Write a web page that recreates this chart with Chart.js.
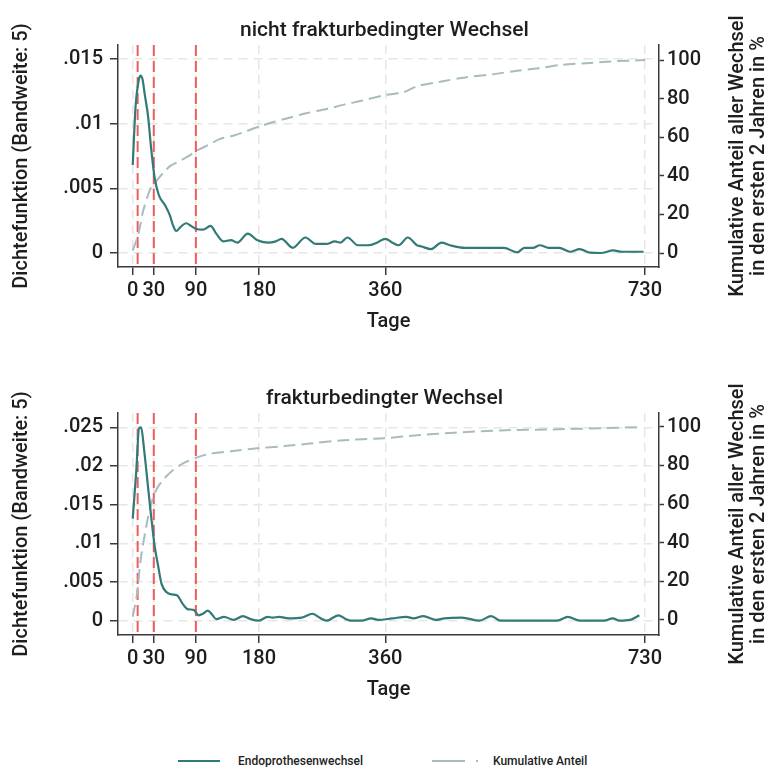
<!DOCTYPE html>
<html><head><meta charset="utf-8">
<script src="https://cdn.jsdelivr.net/npm/chart.js@4/dist/chart.umd.min.js"></script>
<style>
html,body{margin:0;padding:0;background:#fff;}
body{width:769px;height:767px;overflow:hidden;position:relative;font-family:Roboto,sans-serif;}
.c{position:absolute;left:0;width:769px;height:368px;}
.lg{position:absolute;font:500 12px Roboto,sans-serif;color:#222;line-height:14px;white-space:nowrap;}
.sw{position:absolute;height:0;}
</style></head><body>
<div class="c" style="top:0"><canvas id="c1"></canvas></div>
<div class="c" style="top:368px"><canvas id="c2"></canvas></div>
<div class="sw" style="left:178px;top:760px;width:42px;border-top:2.5px solid #317A78"></div>
<div class="lg" style="left:238px;top:754px">Endoprothesenwechsel</div>
<div class="sw" style="left:432px;top:760px;width:33px;border-top:2.5px solid #A9BBBF"></div>
<div class="sw" style="left:476px;top:760px;width:2px;border-top:2px solid #A9BBBF"></div>
<div class="lg" style="left:493px;top:754px">Kumulative Anteil</div>
<script>
// ---- shared ----
const xTicks = [0, 30, 90, 180, 360, 730];
const refDays = [7, 30, 90];
const titles = ["nicht frakturbedingter Wechsel", "frakturbedingter Wechsel"];
const legendLabels = ["Endoprothesenwechsel", "Kumulative Anteil"];
const rightTicks = [0, 20, 40, 60, 80, 100];

// ---- top panel: nicht frakturbedingt ----
const densDaysA = [0, 4, 8, 11, 14, 17, 22, 26, 31, 37, 46, 53, 57, 62, 68, 76, 83, 89, 100, 111, 119, 129, 140, 149, 164, 177, 192, 204, 212, 228, 246, 261, 276, 288, 296, 306, 321, 336, 348, 360, 370, 379, 392, 405, 412, 425, 440, 452, 474, 499, 529, 548, 558, 571, 580, 593, 608, 623, 637, 652, 667, 685, 697, 712, 728];
const densValsA = [0.0068, 0.0113, 0.0132, 0.0137, 0.0134, 0.0123, 0.0105, 0.0082, 0.0059, 0.0045, 0.0037, 0.0029, 0.0022, 0.0017, 0.0020, 0.0023, 0.0021, 0.0019, 0.0018, 0.0021, 0.0015, 0.0009, 0.0010, 0.0008, 0.0015, 0.0010, 0.0008, 0.0009, 0.0011, 0.0004, 0.0012, 0.0007, 0.0007, 0.0009, 0.0008, 0.0012, 0.0006, 0.0006, 0.0008, 0.0011, 0.0008, 0.0006, 0.0012, 0.0006, 0.0005, 0.0003, 0.0008, 0.0006, 0.0004, 0.0004, 0.0004, 0.00005, 0.0004, 0.0004, 0.0006, 0.0004, 0.0004, 0.0001, 0.0003, 0.00003, 0.0, 0.0002, 0.0001, 0.0001, 0.0001];
const cumDaysA = [0, 8, 15, 26, 34, 44, 54, 66, 78, 91, 108, 123, 143, 157, 180, 202, 222, 247, 276, 301, 326, 360, 385, 405, 440, 474, 514, 548, 578, 613, 647, 682, 730];
const cumValsA = [1.2, 9.8, 22, 34, 37.5, 41.8, 45.3, 47.5, 49.9, 53, 56, 58.9, 60.8, 62.5, 65.5, 68, 70, 72.4, 74.6, 76.9, 78.9, 81.9, 83.2, 86.4, 88.9, 91, 92.7, 94.5, 95.7, 97.6, 98.4, 99.3, 100];
const leftTicksA = [0, 0.005, 0.01, 0.015];
const leftLabelsA = ["0", ".005", ".01", ".015"];

// ---- bottom panel: frakturbedingt ----
const densDaysB = [0, 5, 9, 12, 16, 21, 26, 31, 36, 41, 48, 56, 63, 71, 78, 87, 94, 100, 107, 113, 119, 130, 144, 157, 168, 180, 192, 199, 209, 222, 241, 256, 266, 276, 293, 304, 311, 326, 340, 350, 370, 390, 400, 414, 432, 444, 469, 494, 511, 524, 563, 605, 620, 637, 672, 684, 694, 709, 722];
const densValsB = [0.0132, 0.0193, 0.0249, 0.0250, 0.0223, 0.0180, 0.0137, 0.0098, 0.0072, 0.0048, 0.0037, 0.0034, 0.0033, 0.0022, 0.0015, 0.0014, 0.0007, 0.0009, 0.0013, 0.0008, 0.0002, 0.0005, 0.0001, 0.0006, 0.0002, 0.0, 0.0005, 0.0004, 0.0005, 0.0003, 0.0004, 0.0009, 0.0004, 0.0, 0.0007, 0.0002, 0.0, 0.0, 0.0003, 0.0001, 0.0003, 0.0005, 0.0003, 0.0006, 0.0001, 0.0003, 0.0004, 0.0, 0.0006, 0.0, 0.0, 0.0, 0.0005, 0.0, 0.0, 0.0003, 0.0, 0.0001, 0.0007];
const cumDaysB = [0, 6, 11, 19, 26, 34, 44, 56, 71, 91, 110, 143, 177, 217, 256, 296, 360, 410, 459, 524, 598, 672, 722];
const cumValsB = [1.7, 13.3, 30.5, 47.8, 59.8, 67.6, 72.8, 77.1, 80.9, 84, 86, 87.4, 88.8, 90, 91.4, 92.9, 94.1, 95.7, 96.9, 98.1, 98.6, 99.3, 99.8];
const leftTicksB = [0, 0.005, 0.01, 0.015, 0.02, 0.025];
const leftLabelsB = ["0", ".005", ".01", ".015", ".02", ".025"];

const FONT = "Roboto";
const TXT = "#1e1e1e";
const GRID = "#e6e6e6";
const AXIS = "#3a3a3a";
const W = "500";

const refLinesPlugin = {
  id: "refLines",
  beforeDatasetsDraw(chart) {
    const {ctx, chartArea} = chart;
    const xs = chart.scales.x;
    ctx.save();
    ctx.strokeStyle = "#F35A5A";
    ctx.lineWidth = 2;
    ctx.setLineDash([11, 5]);
    refDays.forEach(d => {
      const px = xs.getPixelForValue(d);
      ctx.beginPath();
      ctx.moveTo(px, chartArea.top);
      ctx.lineTo(px, chartArea.bottom);
      ctx.stroke();
    });
    ctx.restore();
  }
};

const rightTitlePlugin = {
  id: "rightTitle",
  afterDraw(chart) {
    const {ctx, chartArea} = chart;
    const cy = (chartArea.top + chartArea.bottom) / 2;
    ctx.save();
    ctx.fillStyle = TXT;
    ctx.font = W + " 20px " + FONT;
    ctx.textAlign = "center";
    ctx.textBaseline = "middle";
    const lines = ["Kumulative Anteil aller Wechsel", "in den ersten 2 Jahren in %"];
    const xs = [738, 759];
    lines.forEach((t, i) => {
      ctx.save();
      ctx.translate(xs[i], cy);
      ctx.rotate(-Math.PI / 2);
      ctx.fillText(t, 0, 0);
      ctx.restore();
    });
    ctx.restore();
  }
};

function makeChart(id, title, dDays, dVals, cDays, cVals, lTicks, lLabels, lMin, lMax, rMin, rMax) {
  const dens = dDays.map((d, i) => ({x: d, y: dVals[i]}));
  const cum = cDays.map((d, i) => ({x: d, y: cVals[i]}));
  const f20 = {family: FONT, size: 20, weight: W};
  return new Chart(document.getElementById(id), {
    type: "line",
    data: {
      datasets: [
        {label: legendLabels[0], data: dens, yAxisID: "y", borderColor: "#317A78", borderWidth: 2.2, pointRadius: 0, cubicInterpolationMode: "monotone", fill: false, order: 1},
        {label: legendLabels[1], data: cum, yAxisID: "y1", borderColor: "#A9BBBF", borderWidth: 2, borderDash: [12, 6], pointRadius: 0, tension: 0.3, fill: false, order: 2}
      ]
    },
    options: {
      responsive: true,
      maintainAspectRatio: false,
      animation: false,
      layout: {padding: 0},
      plugins: {
        legend: {display: false},
        tooltip: {enabled: false},
        title: {display: true, text: title, color: TXT, font: {family: FONT, size: 21, weight: W}, padding: {top: 18, bottom: 1.8}}
      },
      scales: {
        x: {
          type: "linear", min: -21, max: 750,
          afterBuildTicks: s => { s.ticks = xTicks.map(v => ({value: v})); },
          afterFit: s => { s.height = 101; },
          ticks: {color: TXT, font: f20, padding: 4, maxRotation: 0, autoSkip: false, callback: v => String(v)},
          grid: {color: GRID, lineWidth: 1.5, tickLength: 8, tickColor: AXIS, tickWidth: 1.5, tickBorderDash: []},
          border: {display: true, color: AXIS, width: 1.5, dash: [9, 6]},
          title: {display: true, text: "Tage", color: TXT, font: f20, padding: {top: 0, bottom: 34}}
        },
        y: {
          type: "linear", position: "left", min: lMin, max: lMax,
          afterBuildTicks: s => { s.ticks = lTicks.map(v => ({value: v})); },
          afterFit: s => { s.width = 118; },
          ticks: {color: TXT, font: f20, padding: 7, callback: (v, i) => lLabels[i]},
          grid: {color: GRID, lineWidth: 1.5, tickLength: 8, tickColor: AXIS, tickWidth: 1.5, tickBorderDash: []},
          border: {display: true, color: AXIS, width: 1.5, dash: [9, 6]},
          title: {display: true, text: "Dichtefunktion (Bandweite: 5)", color: TXT, font: f20, padding: {top: 10, bottom: 0}}
        },
        y1: {
          type: "linear", position: "right", min: rMin, max: rMax,
          afterBuildTicks: s => { s.ticks = rightTicks.map(v => ({value: v})); },
          afterFit: s => { s.width = 110; },
          ticks: {color: TXT, font: f20, padding: 3, callback: v => String(v)},
          grid: {drawOnChartArea: false, tickLength: 5, tickColor: AXIS, tickWidth: 1.5, tickBorderDash: []},
          border: {display: true, color: AXIS, width: 1.5}
        }
      }
    },
    plugins: [refLinesPlugin, rightTitlePlugin]
  });
}

makeChart("c1", titles[0], densDaysA, densValsA, cumDaysA, cumValsA, leftTicksA, leftLabelsA, -0.00108, 0.01607, -7.25, 107.8);
makeChart("c2", titles[1], densDaysB, densValsB, cumDaysB, cumValsB, leftTicksB, leftLabelsB, -0.00185, 0.02686, -7.8, 107.1);
</script>
</body></html>
